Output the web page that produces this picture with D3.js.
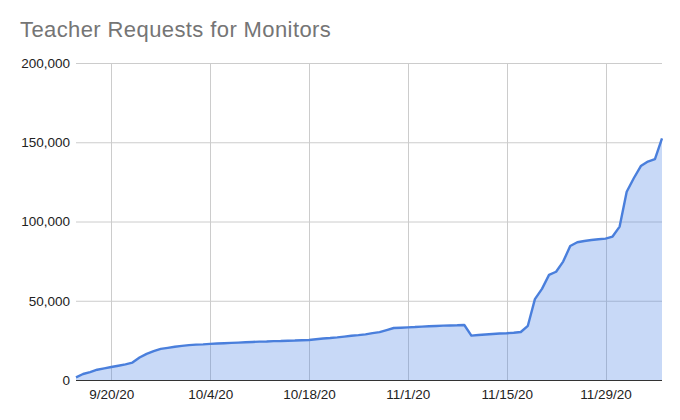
<!DOCTYPE html>
<html>
<head>
<meta charset="utf-8">
<script src="https://cdnjs.cloudflare.com/ajax/libs/d3/7.8.5/d3.min.js"></script>
<style>
  body { margin: 0; background: #fff; }
  svg { font-family: Arial, "Liberation Sans", sans-serif; }
  .title { fill: #757575; font-size: 22px; letter-spacing: 0.4px; }
  .axis text { fill: #222; font-size: 13.5px; }
  .axis path, .axis line { display: none; }
  .grid line { stroke: #cccccc; stroke-width: 1; }
</style>
</head>
<body>
<div id="chart"></div>
<script>
// daily totals, 9/15/20 .. 12/7/20
var startDay = '2020-09-15';
var requests = [
  1700, 3800, 5000, 6500, 7300, 8200, 9000, 9900, 11000, 14200,
  16500, 18200, 19600, 20300, 21000, 21500, 22000, 22300, 22500, 22800,
  23000, 23200, 23400, 23600, 23800, 24000, 24200, 24300, 24500, 24600,
  24800, 24900, 25100, 25200, 25700, 26200, 26500, 26900, 27400, 27900,
  28300, 28800, 29600, 30200, 31500, 32800, 33000, 33200, 33400, 33700,
  33900, 34100, 34300, 34400, 34500, 34700, 28000, 28400, 28700, 29000,
  29300, 29500, 29800, 30300, 34200, 51000, 57500, 66300, 68300, 74700,
  84500, 86900, 87700, 88300, 88800, 89200, 90500, 96800, 118800, 127300,
  135000, 137800, 139300, 152500
];
var xTickDates = ['2020-09-20', '2020-10-04', '2020-10-18', '2020-11-01', '2020-11-15', '2020-11-29'];
var yTicks = [0, 50000, 100000, 150000, 200000];

(function() {
  'use strict';

  var svgWidth = 680,
    svgHeight = 420,
    margin = { top: 63, right: 18, bottom: 40, left: 76 },
    width = svgWidth - margin.left - margin.right,
    height = svgHeight - margin.top - margin.bottom;

  var parse = d3.utcParse('%Y-%m-%d');
  var fmt = d3.utcFormat('%-m/%-d/%y');
  var day0 = parse(startDay);

  var data = requests.map(function(v, i) {
    return { date: d3.utcDay.offset(day0, i), value: v };
  });

  var x = d3.scaleUtc()
    .domain(d3.extent(data, function(d) { return d.date; }))
    .range([0, width]);

  var y = d3.scaleLinear()
    .domain([0, 200000])
    .range([height, 0]);

  var svg = d3.select('#chart')
    .append('svg')
    .attr('width', svgWidth)
    .attr('height', svgHeight);

  svg.append('text')
    .attr('class', 'title')
    .attr('x', 20)
    .attr('y', 37)
    .text('Teacher Requests for Monitors');

  var g = svg.append('g')
    .attr('transform', 'translate(' + margin.left + ',' + margin.top + ')');

  var xTicks = xTickDates.map(parse);

  //gridlines
  g.append('g').attr('class', 'grid')
    .selectAll('line.h')
    .data(yTicks.slice(1))
    .enter().append('line')
    .attr('x1', 0).attr('x2', width)
    .attr('y1', function(d) { return y(d) + 0.5; })
    .attr('y2', function(d) { return y(d) + 0.5; });

  g.append('g').attr('class', 'grid')
    .selectAll('line.v')
    .data(xTicks)
    .enter().append('line')
    .attr('x1', function(d) { return Math.round(x(d)) + 0.5; })
    .attr('x2', function(d) { return Math.round(x(d)) + 0.5; })
    .attr('y1', 0).attr('y2', height);

  var area = d3.area()
    .x(function(d) { return x(d.date); })
    .y0(height)
    .y1(function(d) { return y(d.value); });

  var line = d3.line()
    .x(function(d) { return x(d.date); })
    .y(function(d) { return y(d.value); });

  g.append('path')
    .datum(data)
    .attr('d', area)
    .attr('fill', '#4a80e6')
    .attr('fill-opacity', 0.3);

  g.append('line')
    .attr('x1', 0).attr('x2', width)
    .attr('y1', height + 0.5).attr('y2', height + 0.5)
    .attr('stroke', '#333')
    .attr('stroke-width', 1);

  g.append('path')
    .datum(data)
    .attr('d', line)
    .attr('fill', 'none')
    .attr('stroke', '#4a7fdc')
    .attr('stroke-width', 2.4)
    .attr('stroke-linejoin', 'round');

  //axes
  g.append('g')
    .attr('class', 'axis')
    .call(d3.axisLeft(y)
      .tickValues(yTicks)
      .tickSize(0)
      .tickPadding(6)
      .tickFormat(d3.format(',')));

  g.append('g')
    .attr('class', 'axis')
    .attr('transform', 'translate(0,' + height + ')')
    .call(d3.axisBottom(x)
      .tickValues(xTicks)
      .tickSize(0)
      .tickPadding(9)
      .tickFormat(fmt));
})();
</script>
</body>
</html>
